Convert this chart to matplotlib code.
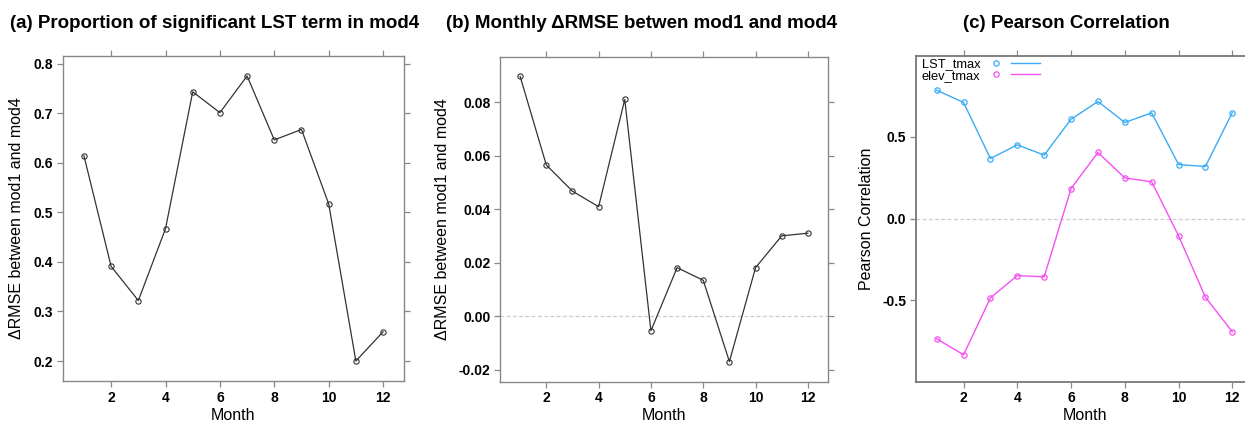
import matplotlib
matplotlib.use("Agg")
import matplotlib.pyplot as plt
from matplotlib.lines import Line2D
from matplotlib.legend_handler import HandlerTuple

plt.rcParams['font.family'] = ['Liberation Sans', 'DejaVu Sans']

# data
months = [1, 2, 3, 4, 5, 6, 7, 8, 9, 10, 11, 12]
prop_sig = [0.614, 0.391, 0.322, 0.467, 0.743, 0.701, 0.775, 0.646, 0.667, 0.517, 0.200, 0.259]
d_rmse = [0.0896, 0.0565, 0.0467, 0.0409, 0.0810, -0.0055, 0.0181, 0.0134, -0.0170, 0.0181, 0.0300, 0.0310]
cor_lst = [0.787, 0.712, 0.368, 0.452, 0.389, 0.609, 0.718, 0.589, 0.648, 0.331, 0.319, 0.650]
cor_elev = [-0.738, -0.836, -0.487, -0.350, -0.358, 0.184, 0.405, 0.249, 0.225, -0.106, -0.483, -0.695]

xticks = [2, 4, 6, 8, 10, 12]
yticks_a = [0.2, 0.3, 0.4, 0.5, 0.6, 0.7, 0.8]
yticks_b = [-0.02, 0.00, 0.02, 0.04, 0.06, 0.08]
yticks_c = [-0.5, 0.0, 0.5]

frame_col = '#888888'
blue = '#3aacf5'
pink = '#f550f0'

fig = plt.figure(figsize=(12.45, 4.25), dpi=100)
ax1 = fig.add_axes([63 / 1245, 1 - 381 / 425, 341 / 1245, 325 / 425])
ax2 = fig.add_axes([500 / 1245, 1 - 381.5 / 425, 328 / 1245, 325 / 425])
ax3 = fig.add_axes([916 / 1245, 1 - 381.5 / 425, 337 / 1245, 326 / 425])


def style(ax):
    for s in ax.spines.values():
        s.set_color(frame_col)
        s.set_linewidth(1.0)
    ax.tick_params(direction='out', length=4, width=0.9, color=frame_col,
                   labelsize=10, pad=3, top=True, right=True)
    ax.set_xticks(xticks)
    ax.set_xticklabels([str(v) for v in xticks], fontweight='bold')
    ax.set_xlabel('Month', fontsize=11.5, labelpad=2)


# (a)
ax1.plot(months, prop_sig, color='#333333', lw=0.9, marker='o', ms=3.8,
         mfc='none', mec='#333333', mew=0.8)
ax1.margins(x=0.07, y=0.07)
ax1.set_yticks(yticks_a)
ax1.set_yticklabels(['%.1f' % v for v in yticks_a], fontweight='bold')
ax1.set_ylabel('ΔRMSE between mod1 and mod4', fontsize=11.5, labelpad=7)
style(ax1)

# (b)
ax2.axhline(0, color='#cccccc', lw=0.9, ls=(0, (3, 2)))
ax2.plot(months, d_rmse, color='#333333', lw=0.9, marker='o', ms=3.8,
         mfc='none', mec='#333333', mew=0.8)
ax2.margins(x=0.07, y=0.07)
ax2.set_yticks(yticks_b)
ax2.set_yticklabels(['%.2f' % v for v in yticks_b], fontweight='bold')
ax2.set_ylabel('ΔRMSE between mod1 and mod4', fontsize=11.5, labelpad=6)
style(ax2)

# (c)
ax3.axhline(0, color='#cccccc', lw=0.9, ls=(0, (3, 2)))
ax3.plot(months, cor_lst, color=blue, lw=1.0, marker='o', ms=3.8,
         mfc='none', mec=blue, mew=0.9)
ax3.plot(months, cor_elev, color=pink, lw=1.0, marker='o', ms=3.8,
         mfc='none', mec=pink, mew=0.9)
ax3.margins(x=0.07)
ax3.set_ylim(-1, 1)
ax3.set_yticks(yticks_c)
ax3.set_yticklabels(['%.1f' % v for v in yticks_c], fontweight='bold')
ax3.set_ylabel('Pearson Correlation', fontsize=11.5, labelpad=6)
style(ax3)
for s in ax3.spines.values():
    s.set_color('#777777')
    s.set_linewidth(1.3)

h_lst = (Line2D([], [], ls='none', marker='o', ms=3.8, mfc='none', mec=blue, mew=0.9),
         Line2D([], [], color=blue, lw=1.0))
h_elev = (Line2D([], [], ls='none', marker='o', ms=3.8, mfc='none', mec=pink, mew=0.9),
          Line2D([], [], color=pink, lw=1.0))
ax3.legend([h_lst, h_elev], ['LST_tmax', 'elev_tmax'],
           handler_map={tuple: HandlerTuple(ndivide=2, pad=0.05)},
           loc='upper left', bbox_to_anchor=(-0.01, 1.02), frameon=False,
           markerfirst=False, fontsize=9.3, handlelength=4.5, handletextpad=0.1,
           labelspacing=-0.02, borderpad=0.2)

# titles
fig.text(215 / 1245, 1 - 23 / 425, '(a) Proportion of significant LST term in mod4',
         ha='center', va='center', fontsize=13.5, fontweight='bold')
fig.text(642 / 1245, 1 - 23 / 425, '(b) Monthly ΔRMSE betwen mod1 and mod4',
         ha='center', va='center', fontsize=13.5, fontweight='bold')
fig.text(1066 / 1245, 1 - 23 / 425, '(c) Pearson Correlation',
         ha='center', va='center', fontsize=13.5, fontweight='bold')

fig.savefig('out.png', dpi=100)
